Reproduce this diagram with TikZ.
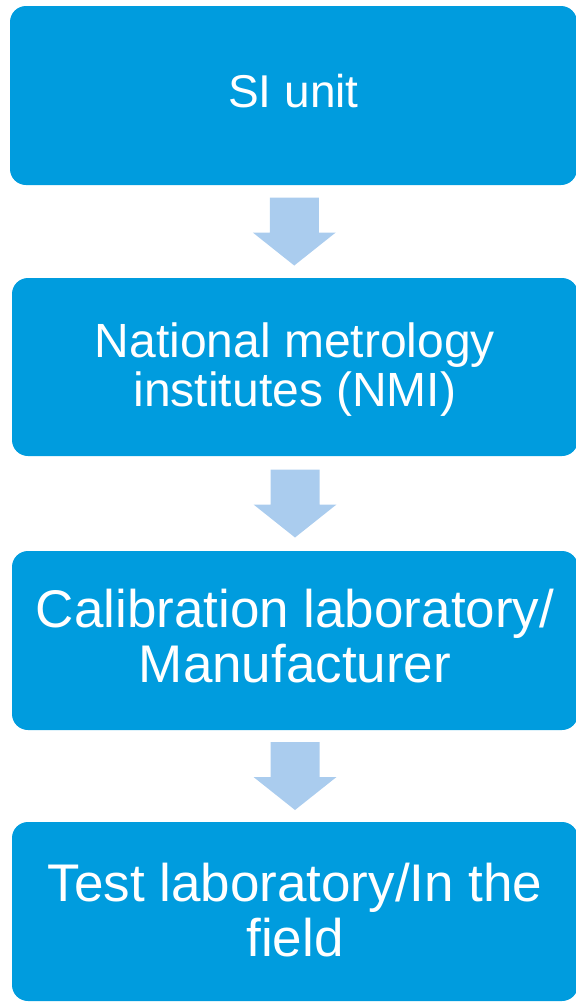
\documentclass[tikz,border=0pt]{standalone}
\usepackage{fontspec}
\setmainfont{Liberation Sans}
\usetikzlibrary{calc}
\definecolor{boxblue}{RGB}{0,156,222}
\definecolor{flowblue}{RGB}{170,204,238}
\begin{document}
\begin{tikzpicture}[x=1pt,y=-1pt,
  stage/.style={fill=boxblue,draw=none,rounded corners=16pt,inner sep=0pt,outer sep=0pt},
  stagetext/.style={text=white,align=center,inner sep=0pt,outer sep=0pt},
  flow/.style={fill=flowblue,draw=none}]
\useasboundingbox (0,0) rectangle (576,1002);
\clip (0,0) rectangle (576,1002);
% the four stages of the traceability chain
\node[stage,minimum width=567,minimum height=179] (b1) at (293.5,95.5) {};
\node[stage,minimum width=566,minimum height=178] (b2) at (295,367) {};
\node[stage,minimum width=566,minimum height=179] (b3) at (295,640.5) {};
\node[stage,minimum width=566,minimum height=179] (b4) at (295,911.5) {};
% labels
\node[stagetext,font=\fontsize{46}{53}\selectfont] (t1) at ([yshift=4.5]b1.center) {SI unit};
\node[stagetext,font=\fontsize{48}{49}\selectfont] (t2) at ([yshift=-3]b2.center) {National metrology\\institutes (NMI)};
\node[stagetext,font=\fontsize{53}{55}\selectfont] (t3) at ([yshift=4.5]b3.center) {Calibration laboratory/\\Manufacturer};
\node[stagetext,font=\fontsize{53}{55}\selectfont] (t4) at ([yshift=1.5]b4.center) {Test laboratory/In the\\field};
% block arrows between consecutive stages
\foreach \a/\b in {b1/b2,b2/b3,b3/b4}
  \fill[flow] ($(\a.south)!0.5!(\b.north)$) ++(-24.5,-34) -- ++(49,0) -- ++(0,35)
    -- ++(17,0) -- ++(-41.5,33) -- ++(-41.5,-33) -- ++(17,0) -- cycle;
\end{tikzpicture}
\end{document}
